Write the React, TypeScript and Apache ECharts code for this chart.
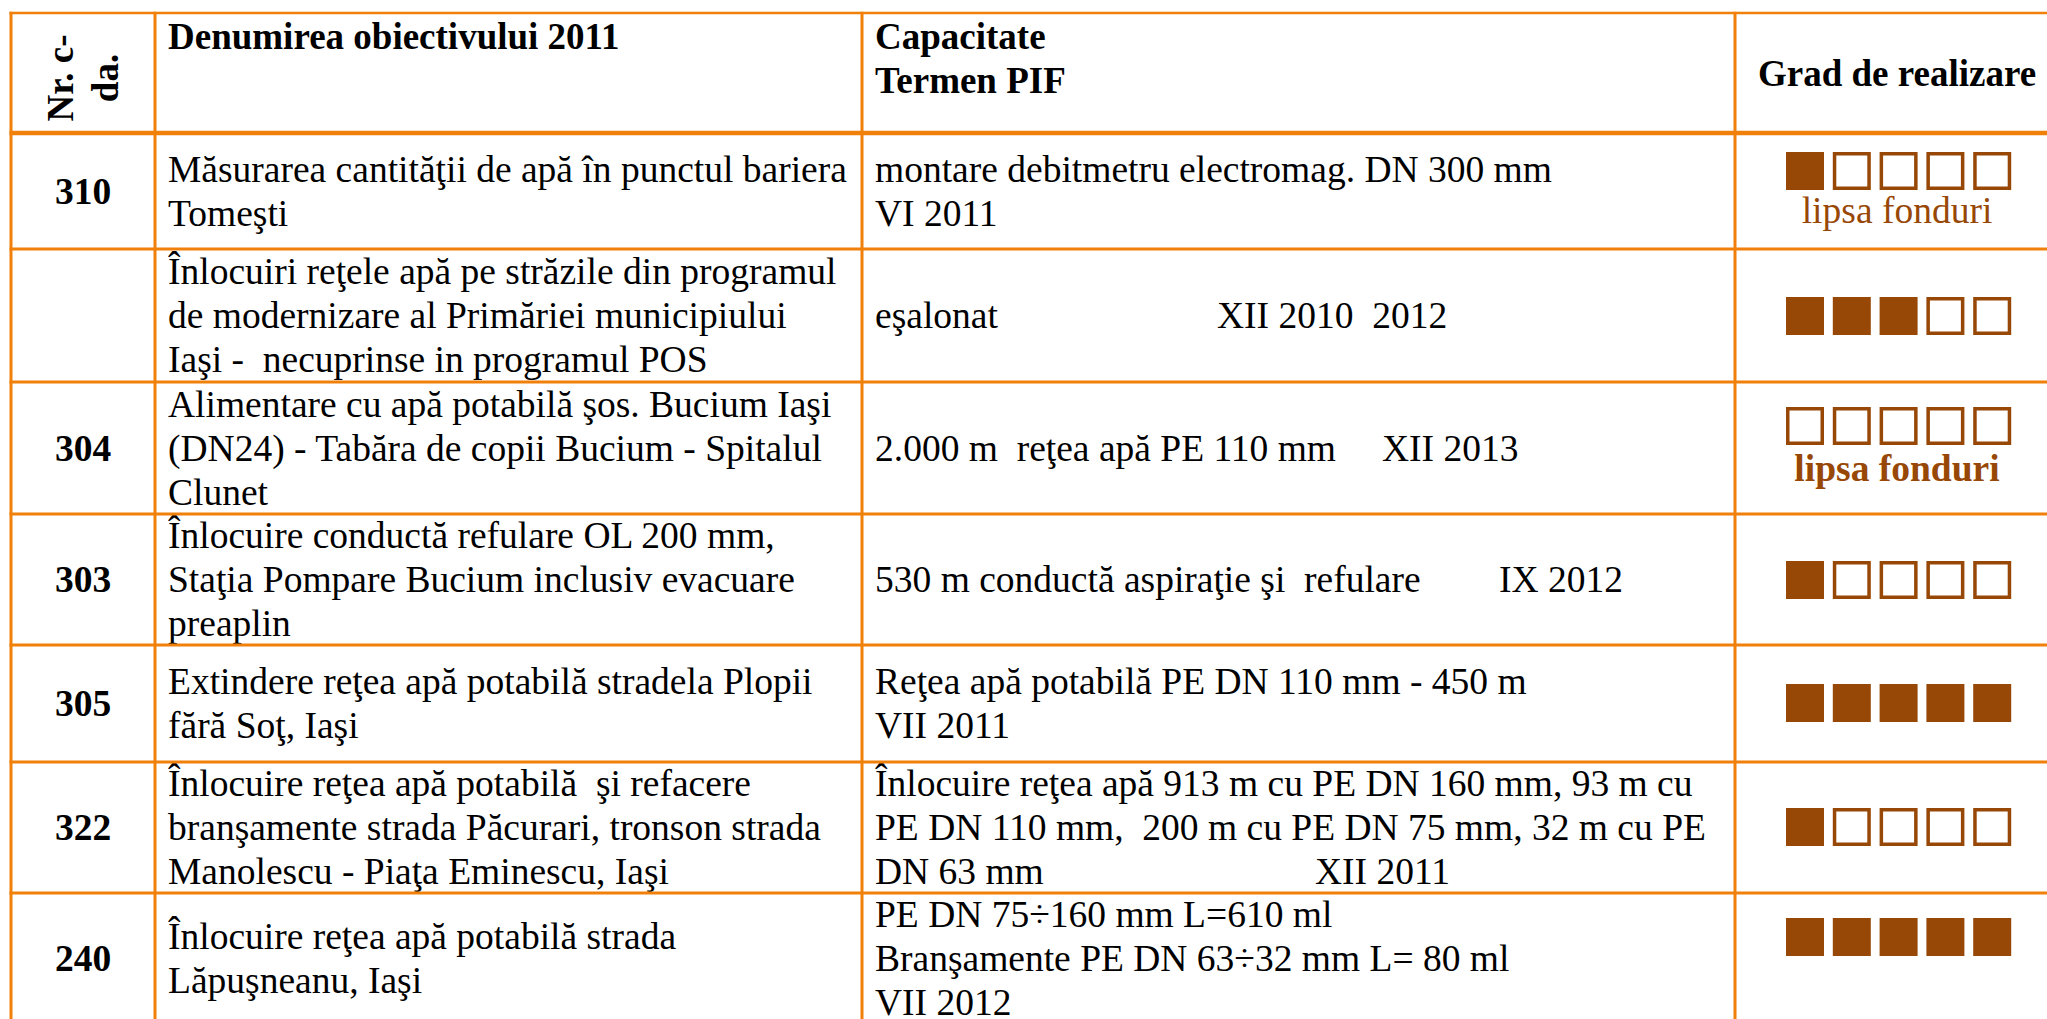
import React, { useEffect, useRef } from 'react';
import * as echarts from 'echarts';

// ---------- data ----------
const headerNr = 'Nr. c-\nda.';
const headerName = 'Denumirea obiectivului 2011';
const headerCap = ['Capacitate', 'Termen PIF'];
const headerGrade = 'Grad de realizare';

const ids = ['310', '', '304', '303', '305', '322', '240'];

const objectives: string[][] = [
  ['Măsurarea cantităţii de apă în punctul bariera', 'Tomeşti'],
  ['Înlocuiri reţele apă pe străzile din programul', 'de modernizare al Primăriei municipiului', 'Iaşi -  necuprinse in programul POS'],
  ['Alimentare cu apă potabilă şos. Bucium Iaşi', '(DN24) - Tabăra de copii Bucium - Spitalul', 'Clunet'],
  ['Înlocuire conductă refulare OL 200 mm,', 'Staţia Pompare Bucium inclusiv evacuare', 'preaplin'],
  ['Extindere reţea apă potabilă stradela Plopii', 'fără Soţ, Iaşi'],
  ['Înlocuire reţea apă potabilă  şi refacere', 'branşamente strada Păcurari, tronson strada', 'Manolescu - Piaţa Eminescu, Iaşi'],
  ['Înlocuire reţea apă potabilă strada', 'Lăpuşneanu, Iaşi'],
];

// "\t" separates the term (PIF) placed further right on the same line
const capacities: string[][] = [
  ['montare debitmetru electromag. DN 300 mm', 'VI 2011'],
  ['eşalonat\tXII 2010  2012'],
  ['2.000 m  reţea apă PE 110 mm\tXII 2013'],
  ['530 m conductă aspiraţie şi  refulare\tIX 2012'],
  ['Reţea apă potabilă PE DN 110 mm - 450 m', 'VII 2011'],
  ['Înlocuire reţea apă 913 m cu PE DN 160 mm, 93 m cu', 'PE DN 110 mm,  200 m cu PE DN 75 mm, 32 m cu PE', 'DN 63 mm\tXII 2011'],
  ['PE DN 75÷160 mm L=610 ml', 'Branşamente PE DN 63÷32 mm L= 80 ml', 'VII 2012'],
];

const progress = [1, 3, 0, 1, 5, 1, 5]; // filled squares out of 5
const notes = ['lipsa fonduri', '', 'lipsa fonduri', '', '', '', ''];
const notesBold = [false, false, true, false, false, false, false];

// ---------- layout / style ----------
const ORANGE = '#F0800A';
const BROWN = '#984806';
const FONT_FAMILY = "'Times New Roman', 'Liberation Serif', Tinos, serif";
const FS_HEAD = 37;
const FS = 37.5;
const LH = 44;

const colX = [11, 155, 862, 1735];
const rightX = 2070;
const rowY = [13, 133, 249, 382, 514, 645, 762, 893, 1024];
const tabStops = [0, 1217, 1382, 1499, 0, 1315, 0];
const squareCY = [171, 316, 426, 580, 703, 827, 937];
const noteCY = [210, 0, 468, 0, 0, 0, 0];
const SQ_X0 = 1786;
const SQ_STEP = 46.8;
const SQ = 38;
const PAD = 13;

const keepSpaces = (s: string) => s.replace(/ {2}/g, '\u00A0 ');

function textEl(text: string, x: number, y: number, opts: any = {}) {
  const size = opts.size || FS;
  return {
    type: 'text',
    x,
    y,
    rotation: opts.rotation || 0,
    silent: true,
    style: {
      text: keepSpaces(text),
      font: `${opts.bold ? 'bold ' : ''}${size}px ${FONT_FAMILY}`,
      fill: opts.fill || '#000',
      align: opts.align || 'left',
      textAlign: opts.align || 'left',
      verticalAlign: 'middle',
      textVerticalAlign: 'middle',
      lineHeight: opts.lineHeight,
    },
  };
}

function buildElements() {
  const els: any[] = [];

  // header
  els.push(textEl(headerNr, (colX[0] + colX[1]) / 2, 78, { bold: true, size: FS_HEAD, align: 'center', rotation: Math.PI / 2, lineHeight: 45 }));
  els.push(textEl(headerName, colX[1] + PAD, 36, { bold: true, size: FS_HEAD }));
  headerCap.forEach((t, i) => els.push(textEl(t, colX[2] + PAD, 36 + i * LH, { bold: true, size: FS_HEAD })));
  els.push(textEl(headerGrade, 1897, 73, { bold: true, size: FS_HEAD, align: 'center' }));

  // body rows
  for (let r = 0; r < ids.length; r++) {
    const top = rowY[r + 1];
    const bottom = rowY[r + 2];
    const cy = (top + bottom) / 2;

    if (ids[r]) els.push(textEl(ids[r], (colX[0] + colX[1]) / 2, cy, { bold: true, align: 'center' }));

    const obj = objectives[r];
    obj.forEach((line, i) => {
      els.push(textEl(line, colX[1] + PAD, cy + (i - (obj.length - 1) / 2) * LH));
    });

    const cap = capacities[r];
    cap.forEach((line, i) => {
      const y = cy + (i - (cap.length - 1) / 2) * LH;
      const parts = line.split('\t');
      els.push(textEl(parts[0], colX[2] + PAD, y));
      if (parts[1]) els.push(textEl(parts[1], tabStops[r], y));
    });

    // progress squares
    for (let k = 0; k < 5; k++) {
      const x = SQ_X0 + k * SQ_STEP;
      const y = squareCY[r] - SQ / 2;
      if (k < progress[r]) {
        els.push({ type: 'rect', silent: true, shape: { x, y, width: SQ, height: SQ }, style: { fill: BROWN } });
      } else {
        els.push({
          type: 'rect',
          silent: true,
          shape: { x: x + 1.75, y: y + 1.75, width: SQ - 3.5, height: SQ - 3.5 },
          style: { fill: '#fff', stroke: BROWN, lineWidth: 3.5 },
        });
      }
    }
    if (notes[r]) {
      els.push(textEl(notes[r], 1897, noteCY[r], { bold: notesBold[r], align: 'center', fill: BROWN }));
    }
  }

  // grid lines
  rowY.slice(0, rowY.length - 1).forEach((y, i) => {
    els.push({
      type: 'line',
      silent: true,
      shape: { x1: colX[0] - 1.5, y1: y, x2: rightX, y2: y },
      style: { stroke: ORANGE, lineWidth: i === 1 ? 4.5 : i === 0 ? 2.5 : 3 },
    });
  });
  colX.forEach((x) => {
    els.push({
      type: 'line',
      silent: true,
      shape: { x1: x, y1: rowY[0] - 1.25, x2: x, y2: 1040 },
      style: { stroke: ORANGE, lineWidth: 3 },
    });
  });

  return els;
}

export default function App() {
  const ref = useRef<HTMLDivElement>(null);
  useEffect(() => {
    if (!ref.current) return;
    const chart = echarts.init(ref.current, undefined, { renderer: 'svg' });
    chart.setOption({
      animation: false,
      backgroundColor: '#fff',
      graphic: { elements: buildElements() },
    });
    return () => chart.dispose();
  }, []);
  return (
    <div
      ref={ref}
      style={{ position: 'fixed', left: 0, top: 0, width: 2047, height: 1019, background: '#fff' }}
    />
  );
}
